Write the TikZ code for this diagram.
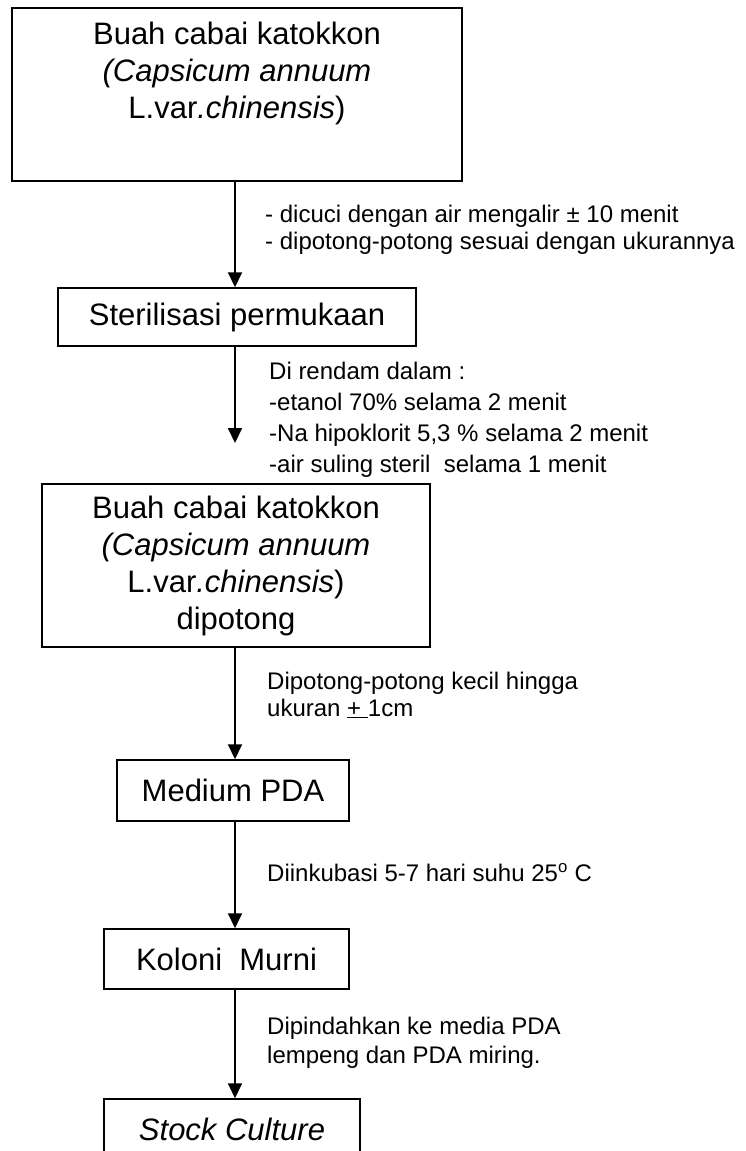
\documentclass[tikz,border=0pt]{standalone}
\usepackage{fontspec}
\setmainfont{Liberation Sans}
\usetikzlibrary{positioning,arrows.meta}

\begin{document}
\begin{tikzpicture}[x=1pt,y=-1pt,
		box/.style={draw, line width=1.5pt, align=center, inner sep=0pt,
			font=\fontsize{31}{37}\selectfont},
		note/.style={anchor=west, align=left, inner sep=0pt,
			font=\fontsize{24}{27}\selectfont},
		flow/.style={-{Triangle[width=14pt,length=15pt]}, line width=2pt}]
		\useasboundingbox (0,0) rectangle (745,1151);
		\coordinate (col) at (235,0);
		\node[box, minimum width=450pt, minimum height=173pt] (buah) at (237,94.5)
		{Buah cabai katokkon\\\textit{(Capsicum annuum}\\L.var\textit{.chinensis})\\\strut};
		\node[box, minimum width=358pt, minimum height=58pt] (steril) at (237,317)
		{Sterilisasi permukaan};
		\node[box, minimum width=388pt, minimum height=163pt] (potong) at (236,565.5)
		{Buah cabai katokkon\\\textit{(Capsicum annuum}\\L.var\textit{.chinensis})\\dipotong};
		\node[box, minimum width=232pt, minimum height=61pt] (pda) at (233,790.5)
		{Medium PDA};
		\node[box, minimum width=245pt, minimum height=60pt] (koloni) at (226.5,959)
		{Koloni\ \ Murni};
		\node[box, minimum width=256pt, minimum height=61pt] (stock) at (232,1129.5)
		{\textit{Stock Culture}};
		\coordinate (rendam) at (235,443);
		% langkah-langkah
		\draw[flow] (buah.south -| col) -- (steril.north -| col);
		\draw[flow] (steril.south -| col) -- (rendam);
		\draw[flow] (potong.south -| col) -- (pda.north -| col);
		\draw[flow] (pda.south -| col) -- (koloni.north -| col);
		\draw[flow] (koloni.south -| col) -- (stock.north -| col);
		% keterangan
		\node[note] (cuci) at (265,230) {- dicuci dengan air mengalir ± 10 menit\\- dipotong-potong sesuai dengan ukurannya};
		\node[note, font=\fontsize{24}{31}\selectfont] (rendamnote) at (269,420)
		{Di rendam dalam :\\-etanol 70\% selama 2 menit\\-Na hipoklorit 5,3 \% selama 2 menit\\-air suling steril\ \ selama 1 menit};
		\node[note] (kecil) at (267,695) {Dipotong-potong kecil hingga\\ukuran \underline{+\ }1cm};
		\node[note] (inkubasi) at (267,873) {Diinkubasi 5-7 hari suhu 25\textsuperscript{o} C};
		\node[note, font=\fontsize{24}{29}\selectfont] (pindah) at (267,1042.5)
		{Dipindahkan ke media PDA\\lempeng dan PDA miring.};
	\end{tikzpicture}
\end{document}
